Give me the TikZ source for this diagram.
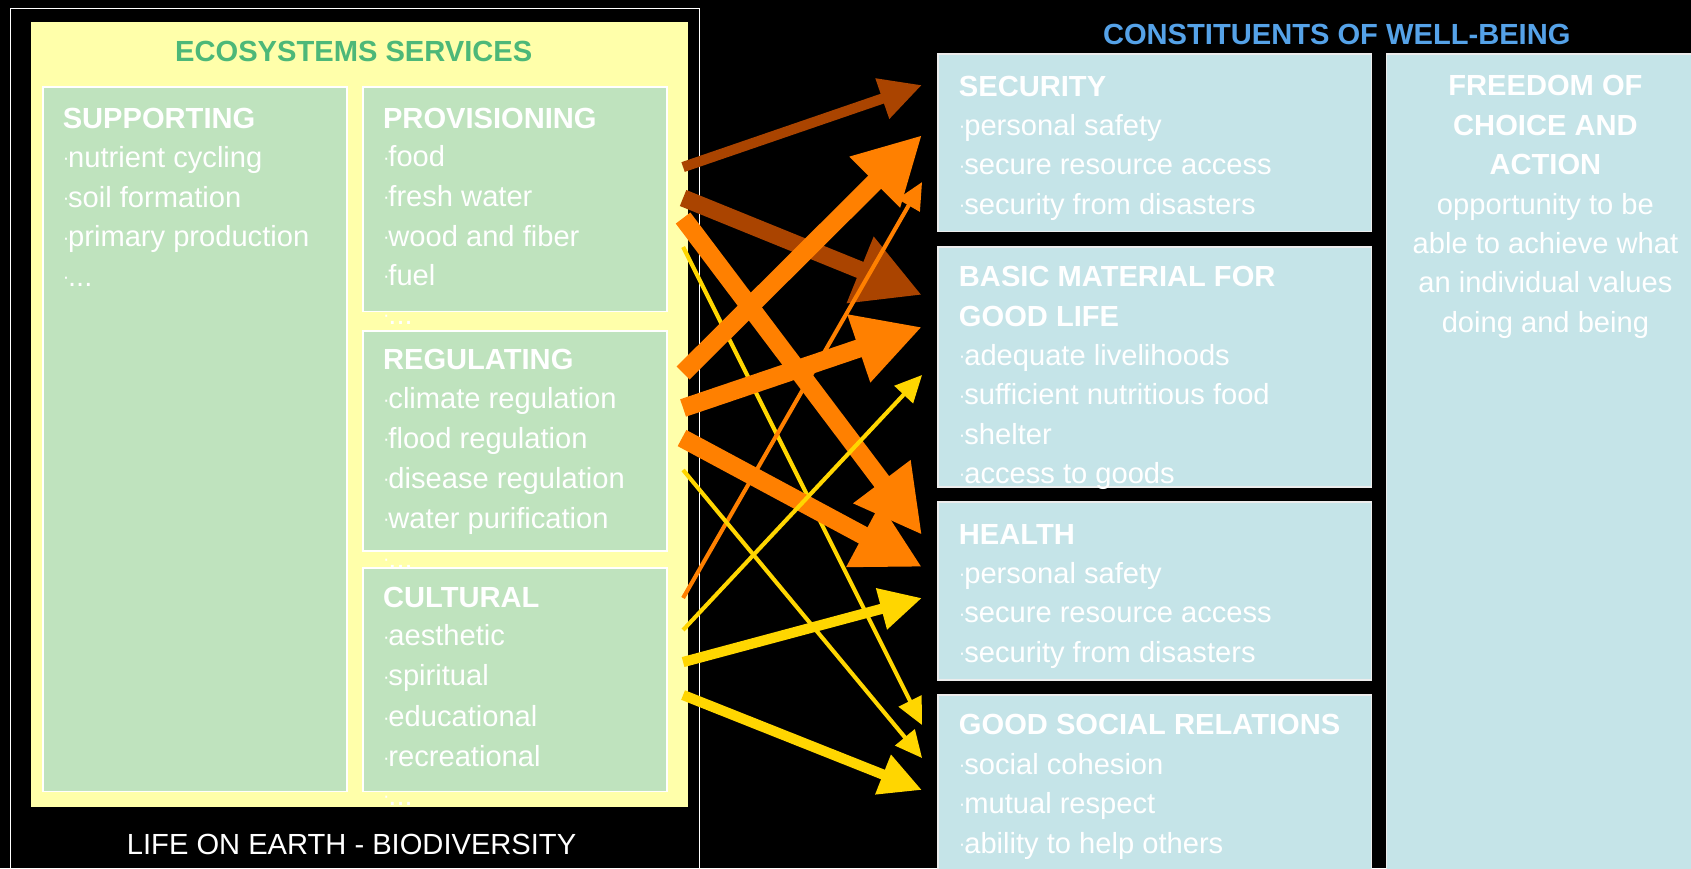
\documentclass[tikz,border=0pt]{standalone}
\usepackage{fontspec}
\setmainfont{Liberation Sans}
\usetikzlibrary{arrows.meta}
\definecolor{ylw}{HTML}{FFFFAA}
\definecolor{grn}{HTML}{BFE3BE}
\definecolor{blu}{HTML}{C5E4E8}
\definecolor{ttlg}{HTML}{4DB878}
\definecolor{ttlb}{HTML}{55A2E8}
\definecolor{brn}{HTML}{AA4400}
\definecolor{org}{HTML}{FF8000}
\definecolor{yel}{HTML}{FFD600}
\newcommand\bl{\raisebox{2.5pt}{\fontsize{18}{18}\selectfont ·}\kern-1pt}
\begin{document}
\begin{tikzpicture}[x=1pt,y=-1pt,
  hd/.style={anchor=base west,inner sep=0pt,text=white,font=\bfseries\fontsize{27}{32}\selectfont},
  it/.style={anchor=base west,inner sep=0pt,text=white,font=\fontsize{27}{32}\selectfont},
  hdc/.style={anchor=base,inner sep=0pt,text=white,font=\bfseries\fontsize{27}{32}\selectfont},
  itc/.style={anchor=base,inner sep=0pt,text=white,font=\fontsize{27}{32}\selectfont},
  ttl/.style={anchor=base,inner sep=0pt,font=\bfseries\fontsize{27}{32}\selectfont},
  gbox/.style={draw=white,line width=1.5pt,fill=grn,anchor=north west,inner sep=0pt},
  bbox/.style={draw=white!85!gray,line width=1.5pt,fill=blu,anchor=north west,inner sep=0pt},
  athick/.style={line width=17pt,line cap=butt,-{Triangle[length=62pt,width=62pt]}},
  amed/.style={line width=9.5pt,line cap=butt,-{Triangle[length=39pt,width=37pt]}},
  athin/.style={line width=3.8pt,line cap=butt,-{Triangle[length=25pt,width=23pt]}}]
\useasboundingbox (0,0) rectangle (1568,805);
\clip (0,0) rectangle (1568,805);
\fill[black] (0,0) rectangle (1568,805);
% outer frame and yellow panel
\node[draw=white,line width=1.5pt,anchor=north west,inner sep=0pt,minimum width=639pt,minimum height=830pt] (outer) at (9,7) {};
\node[fill=ylw,anchor=north west,inner sep=0pt,minimum width=609pt,minimum height=727.5pt] (ylwbox) at (28.5,20.5) {};
\node[ttl,text=ttlg] (t1) at (328,57) {ECOSYSTEMS SERVICES};
% supporting
\node[gbox,minimum width=282pt,minimum height=653pt] (sup) at (39,80) {};
\node[hd] (sup0) at (58,119) {SUPPORTING};
\node[it] (sup1) at (58,155) {\bl nutrient cycling};
\node[it] (sup2) at (58,192) {\bl soil formation};
\node[it] (sup3) at (58,229) {\bl primary production};
\node[it] (sup4) at (58,265.5) {\bl...};
% provisioning
\node[gbox,minimum width=282pt,minimum height=208pt] (prov) at (336,80) {};
\node[hd] (prov0) at (355,119) {PROVISIONING};
\node[it] (prov1) at (355,154.6) {\bl food};
\node[it] (prov2) at (355,191.6) {\bl fresh water};
\node[it] (prov3) at (355,228.7) {\bl wood and fiber};
\node[it] (prov4) at (355,264.3) {\bl fuel};
\node[it] (prov5) at (355,300.5) {\bl...};
% regulating
\node[gbox,minimum width=282pt,minimum height=204pt] (reg) at (336,306) {};
\node[hd] (reg0) at (355,342.7) {REGULATING};
\node[it] (reg1) at (355,379) {\bl climate regulation};
\node[it] (reg2) at (355,416) {\bl flood regulation};
\node[it] (reg3) at (355,453) {\bl disease regulation};
\node[it] (reg4) at (355,489.8) {\bl water purification};
\node[it] (reg5) at (355,527) {\bl...};
% cultural
\node[gbox,minimum width=282pt,minimum height=207pt] (cult) at (336,526) {};
\node[hd] (cult0) at (355,563) {CULTURAL};
\node[it] (cult1) at (355,599) {\bl aesthetic};
\node[it] (cult2) at (355,636) {\bl spiritual};
\node[it] (cult3) at (355,674) {\bl educational};
\node[it] (cult4) at (355,711) {\bl recreational};
\node[it] (cult5) at (355,747) {\bl...};
\node[itc] (life) at (326,792) {LIFE ON EARTH - BIODIVERSITY};
% right side
\node[ttl,text=ttlb] (t2) at (1239.5,41.7) {CONSTITUENTS OF WELL-BEING};
\node[bbox,minimum width=402pt,minimum height=164.5pt] (sec) at (869,49.5) {};
\node[hd] (sec0) at (889,89.5) {SECURITY};
\node[it] (sec1) at (889,125.5) {\bl personal safety};
\node[it] (sec2) at (889,162) {\bl secure resource access};
\node[it] (sec3) at (889,198.5) {\bl security from disasters};
\node[bbox,minimum width=402pt,minimum height=222.7pt] (bas) at (869,228) {};
\node[hd] (bas0) at (889,266) {BASIC MATERIAL FOR};
\node[hd] (bas1) at (889,302.5) {GOOD LIFE};
\node[it] (bas2) at (889,339) {\bl adequate livelihoods};
\node[it] (bas3) at (889,375.5) {\bl sufficient nutritious food};
\node[it] (bas4) at (889,412) {\bl shelter};
\node[it] (bas5) at (889,448.5) {\bl access to goods};
\node[bbox,minimum width=402pt,minimum height=164.6pt] (hea) at (869,465) {};
\node[hd] (hea0) at (889,504.5) {HEALTH};
\node[it] (hea1) at (889,541) {\bl personal safety};
\node[it] (hea2) at (889,577.5) {\bl secure resource access};
\node[it] (hea3) at (889,614) {\bl security from disasters};
\node[bbox,minimum width=402pt,minimum height=200pt] (gsr) at (869,643.6) {};
\node[hd] (gsr0) at (889,681.5) {GOOD SOCIAL RELATIONS};
\node[it] (gsr1) at (889,718) {\bl social cohesion};
\node[it] (gsr2) at (889,754.5) {\bl mutual respect};
\node[it] (gsr3) at (889,791) {\bl ability to help others};
\node[bbox,minimum width=320pt,minimum height=800pt] (fre) at (1285,49.5) {};
\node[hdc] (fre0) at (1433,89) {FREEDOM OF};
\node[hdc] (fre1) at (1433,125.5) {CHOICE AND};
\node[hdc] (fre2) at (1433,162) {ACTION};
\node[itc] (fre3) at (1433,198.5) {opportunity to be};
\node[itc] (fre4) at (1433,235) {able to achieve what};
\node[itc] (fre5) at (1433,271.5) {an individual values};
\node[itc] (fre6) at (1433,308) {doing and being};
% arrow end points
\coordinate (aT) at (633.4,154.9); \coordinate (aH) at (855,78.8);
\coordinate (bT) at (633.4,183.6); \coordinate (bH) at (855,273.6);
\coordinate (cT) at (633.4,345.9); \coordinate (cH) at (855,125.2);
\coordinate (dT) at (633.4,202.2); \coordinate (dH) at (855,496.1);
\coordinate (eT) at (633.4,554.5); \coordinate (eH) at (855,168.8);
\coordinate (fT) at (633.4,378.3); \coordinate (fH) at (855,303.2);
\coordinate (gT) at (632.4,406.2); \coordinate (gH) at (855,525.8);
\coordinate (hT) at (633.4,229);   \coordinate (hH) at (855,672.3);
\coordinate (iT) at (633.4,435.8); \coordinate (iH) at (855,702.9);
\coordinate (jT) at (633.4,584.2); \coordinate (jH) at (855,347.7);
\coordinate (kT) at (633.4,613.9); \coordinate (kH) at (855,554.5);
\coordinate (lT) at (633.4,644.5); \coordinate (lH) at (855,732.6);
% arrows
\draw[athin,yel] (hT) -- (hH);
\draw[amed,brn] (aT) -- (aH);
\draw[athick,brn,line width=16pt] (bT) -- (bH);
\draw[athick,org] (cT) -- (cH);
\draw[athick,org] (dT) -- (dH);
\draw[athick,org] (fT) -- (fH);
\draw[athick,org] (gT) -- (gH);
\draw[athin,org] (eT) -- (eH);
\draw[athin,yel] (jT) -- (jH);
\draw[athin,yel] (iT) -- (iH);
\draw[amed,yel] (kT) -- (kH);
\draw[amed,yel] (lT) -- (lH);
\end{tikzpicture}
\end{document}
